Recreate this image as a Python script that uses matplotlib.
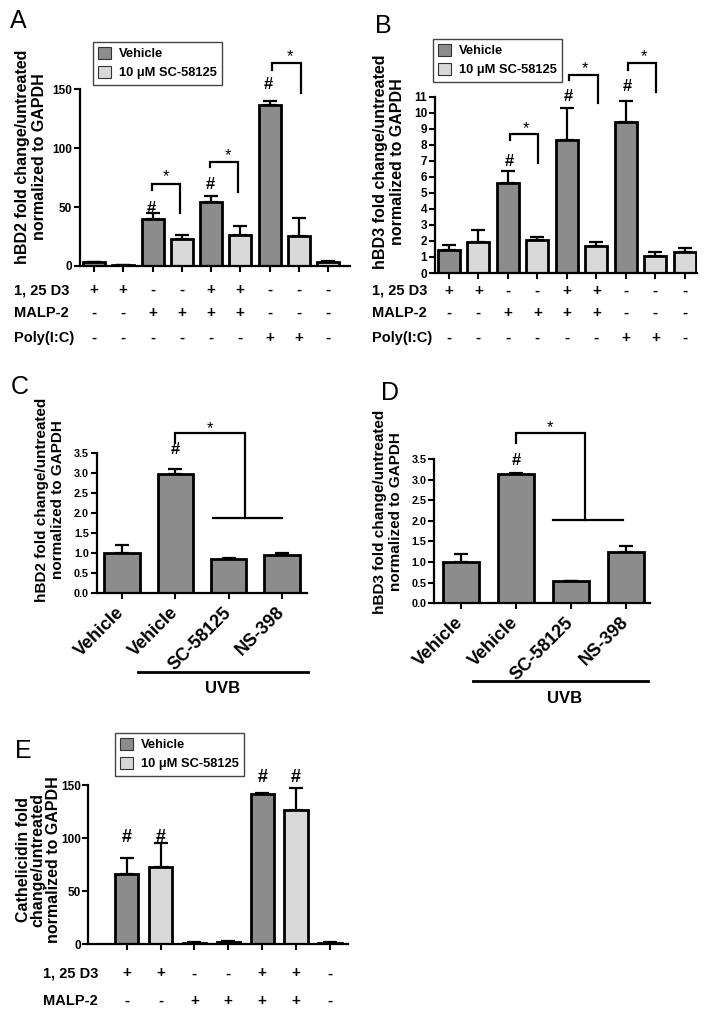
import matplotlib
matplotlib.use("Agg")
import matplotlib.pyplot as plt
from matplotlib.patches import Patch
from matplotlib.transforms import blended_transform_factory

plt.rcParams['font.family'] = ['Liberation Sans', 'DejaVu Sans']
plt.rcParams['font.weight'] = 'bold'

DARK = '#8c8c8c'
LIGHT = '#d9d9d9'

# ---- data ----
# panel A: hBD2, 9 conditions
a_vals = [3.4, 0.6, 40.2, 22.6, 54.6, 26.0, 136.7, 25.5, 3.7]
a_errs = [0.4, 0.1, 5.1, 3.7, 4.8, 8.0, 3.7, 15.0, 0.5]
a_drug = ['veh', 'sc', 'veh', 'sc', 'veh', 'sc', 'veh', 'sc', 'sc']
a_d3 = ['+', '+', '-', '-', '+', '+', '-', '-', '-']
a_malp = ['-', '-', '+', '+', '+', '+', '-', '-', '-']
a_poly = ['-', '-', '-', '-', '-', '-', '+', '+', '-']
a_hash = [2, 4, 6]

# panel B: hBD3, same conditions
b_vals = [1.41, 1.93, 5.64, 2.07, 8.30, 1.66, 9.42, 1.04, 1.31]
b_errs = [0.31, 0.77, 0.73, 0.17, 2.01, 0.27, 1.31, 0.25, 0.25]
b_drug = a_drug
b_hash = [2, 4, 6]

# panels C / D: UVB
uvb_cats = ['Vehicle', 'Vehicle', 'SC-58125', 'NS-398']
c_vals = [1.00, 2.97, 0.855, 0.945]
c_errs = [0.20, 0.13, 0.035, 0.05]
d_vals = [1.00, 3.14, 0.53, 1.25]
d_errs = [0.20, 0.03, 0.02, 0.14]

# panel E: cathelicidin, 7 conditions
e_vals = [66.5, 72.5, 1.6, 2.5, 141.5, 126.4, 1.6]
e_errs = [15.1, 23.2, 0.3, 0.4, 0.5, 21.1, 0.3]
e_drug = ['veh', 'sc', 'veh', 'sc', 'veh', 'sc', 'veh']
e_d3 = ['+', '+', '-', '-', '+', '+', '-']
e_malp = ['-', '-', '+', '+', '+', '+', '-']
e_hash = [0, 1, 4, 5]

W, H = 711, 1016
fig = plt.figure(figsize=(W / 100, H / 100), dpi=100)


def px_axes(left, right, bottom, top):
    # pixel box -> figure fraction axes
    return fig.add_axes([left / W, 1 - bottom / H, (right - left) / W, (bottom - top) / H])


def style(ax, yticks, fmt=None, tick_fs=8.5):
    for s in ['top', 'right']:
        ax.spines[s].set_visible(False)
    for s in ['left', 'bottom']:
        ax.spines[s].set_linewidth(1.6)
    ax.set_yticks(yticks)
    if fmt:
        ax.set_yticklabels([fmt % t for t in yticks])
    ax.tick_params(axis='both', direction='out', length=4, width=1.5, labelsize=tick_fs, pad=1.5)


def bars(ax, vals, errs, colors, width):
    x = range(len(vals))
    ax.bar(x, vals, width=width, color=colors, edgecolor='black', linewidth=2, zorder=2)
    ax.errorbar(x, vals, yerr=[[0] * len(vals), errs], fmt='none', ecolor='black',
                elinewidth=1.6, capsize=5, capthick=1.6, zorder=1)
    ax.set_xticks(list(x))


def star(ax, x, y, fs=12):
    ax.annotate('*', (x, y), xytext=(0, -0.58 * fs), textcoords='offset points',
                ha='center', va='baseline', fontsize=fs, fontweight='normal', annotation_clip=False)


def hashmark(ax, x, y, fs=12):
    ax.annotate('#', (x, y), xytext=(0, -0.36 * fs), textcoords='offset points',
                ha='center', va='baseline', fontsize=fs, annotation_clip=False)


def bracket(ax, x1, x2, ytop, yl, yr):
    ax.plot([x1, x1, x2, x2], [yl, ytop, ytop, yr], color='black', lw=1.6,
            clip_on=False, solid_joinstyle='miter')


def rows(ax, rowlists, ys, names, label_x):
    tr = blended_transform_factory(ax.transData, ax.transAxes)
    for lst, y, name in zip(rowlists, ys, names):
        for i, s in enumerate(lst):
            ax.text(i, y, s, transform=tr, ha='center', va='center', fontsize=11)
        fig.text(label_x / W, 0, name, fontsize=10.5, ha='left', va='center',
                 transform=blended_transform_factory(fig.transFigure, ax.transAxes)).set_y(y)


def legend(ax, x, y):
    handles = [Patch(facecolor=DARK, edgecolor='#333333', linewidth=0.8, label='Vehicle'),
               Patch(facecolor=LIGHT, edgecolor='#333333', linewidth=0.8, label='10 \u03bcM SC-58125')]
    lg = ax.legend(handles=handles, loc='upper left', bbox_to_anchor=(x / W, 1 - y / H),
                   bbox_transform=fig.transFigure, borderaxespad=0, fontsize=9.3,
                   handlelength=1.0, handleheight=1.0, handletextpad=0.6,
                   labelspacing=0.45, borderpad=0.4, fancybox=False, framealpha=1)
    lg.get_frame().set_edgecolor('#444444')
    lg.get_frame().set_linewidth(1.0)


def ylab(x, y, text, fs=11.5, ls=1.1):
    fig.text(x / W, 1 - y / H, text, rotation=90, ha='center', va='center',
             multialignment='center', fontsize=fs, linespacing=ls)


def letter(x, y, s):
    fig.text(x / W, 1 - y / H, s, fontsize=18, fontweight='normal', ha='left', va='baseline')


col = lambda d: [DARK if t == 'veh' else LIGHT for t in d]

# ---- A ----
ax = px_axes(80, 350, 266, 89.3)
bars(ax, a_vals, a_errs, col(a_drug), 0.75)
ax.set_xlim(-0.48, 8.75)
ax.set_ylim(0, 150)
style(ax, [0, 50, 100, 150])
ax.set_xticklabels([])
bracket(ax, 1.97, 2.94, 69.3, 64.5, 44.7)
bracket(ax, 3.97, 4.93, 88.0, 83.8, 63.0)
bracket(ax, 6.07, 7.08, 172.6, 166.4, 146.6)
star(ax, 2.45, 80)
star(ax, 4.57, 98.5)
star(ax, 6.7, 182)
for i, y in zip(a_hash, [50.3, 70.7, 155.6]):
    hashmark(ax, i - 0.03, y)
rows(ax, [a_d3, a_malp, a_poly], [-0.136, -0.266, -0.407],
     ['1, 25 D3', 'MALP-2', 'Poly(I:C)'], 14)
legend(ax, 93, 42)
ylab(31, 157, 'hBD2 fold change/untreated\nnormalized to GAPDH')
letter(10, 28, 'A')

# ---- B ----
ax = px_axes(435, 697, 273, 96.7)
bars(ax, b_vals, b_errs, col(b_drug), 0.75)
ax.set_xlim(-0.47, 8.41)
ax.set_ylim(0, 11)
style(ax, list(range(12)))
ax.set_xticklabels([])
bracket(ax, 2.07, 3.03, 8.67, 8.3, 6.84)
bracket(ax, 4.08, 5.04, 12.35, 12.04, 10.59)
bracket(ax, 6.06, 7.02, 13.12, 12.66, 11.31)
star(ax, 2.6, 9.34)
star(ax, 4.6, 13.1)
star(ax, 6.6, 13.8)
for i, y in zip(b_hash, [7.05, 11.1, 11.73]):
    hashmark(ax, i + 0.05, y)
rows(ax, [a_d3, a_malp, a_poly], [-0.102, -0.227, -0.369],
     ['1, 25 D3', 'MALP-2', 'Poly(I:C)'], 372)
legend(ax, 433, 39)
ylab(389, 162, 'hBD3 fold change/untreated\nnormalized to GAPDH')
letter(375, 33, 'B')


# ---- C / D ----
def uvb_panel(box, vals, errs, xlim, brk, low, star_xy, hash_y, line_y, line_x, uvb_xy):
    ax = px_axes(*box)
    bars(ax, vals, errs, [DARK] * len(vals), 0.66)
    ax.set_xlim(*xlim)
    ax.set_ylim(0, 3.5)
    style(ax, [0, 0.5, 1, 1.5, 2, 2.5, 3, 3.5], '%.1f', tick_fs=7.8)
    ax.set_xticklabels(uvb_cats, rotation=45, ha='right', va='center',
                       rotation_mode='anchor', fontsize=13)
    ax.tick_params(axis='x', pad=8)
    x1, x2, ytop, yl, yr = brk
    bracket(ax, x1, x2, ytop, yl, yr)
    ax.plot(low[:2], [low[2]] * 2, color='black', lw=1.6, clip_on=False)
    star(ax, *star_xy)
    hashmark(ax, 1, hash_y)
    tr = blended_transform_factory(ax.transData, ax.transAxes)
    ax.plot(line_x, [line_y] * 2, color='black', lw=2, transform=tr, clip_on=False)
    ax.text(uvb_xy[0], uvb_xy[1], 'UVB', transform=tr, ha='center', va='center', fontsize=12)
    return ax


uvb_panel((96.7, 306.7, 593.3, 452.7), c_vals, c_errs, (-0.475, 3.465),
          (1.0, 2.31, 4.0, 3.73, 1.87), (1.71, 3.01, 1.87), (1.65, 4.22), 3.62,
          -0.558, (0.3, 3.49), (1.88, -0.68))
ylab(50, 500, 'hBD2 fold change/untreated\nnormalized to GAPDH', fs=11)
letter(11, 394, 'C')

uvb_panel((434, 650, 603.3, 459), d_vals, d_errs, (-0.49, 3.44),
          (1.0, 2.25, 4.14, 3.88, 2.02), (1.68, 2.95, 2.02), (1.62, 4.38), 3.51,
          -0.538, (0.22, 3.4), (1.89, -0.663))
ylab(388, 512, 'hBD3 fold change/untreated\nnormalized to GAPDH', fs=11)
letter(381, 400, 'D')

# ---- E ----
ax = px_axes(88.3, 348.3, 944.3, 785)
bars(ax, e_vals, e_errs, col(e_drug), 0.69)
ax.set_xlim(-1.13, 6.54)
ax.set_ylim(0, 150)
style(ax, [0, 50, 100, 150])
ax.set_xticklabels([])
for i, y in zip(e_hash, [102.3, 102.3, 159.4, 159.4]):
    hashmark(ax, i, y, fs=13)
rows(ax, [e_d3, e_malp], [-0.182, -0.356], ['1, 25 D3', 'MALP-2'], 43)
legend(ax, 115, 733)
ylab(38, 860, 'Cathelicidin fold\nchange/untreated\nnormalized to GAPDH', fs=11.5, ls=1.0)
letter(15, 758, 'E')

fig.savefig('out.png', dpi=100)
